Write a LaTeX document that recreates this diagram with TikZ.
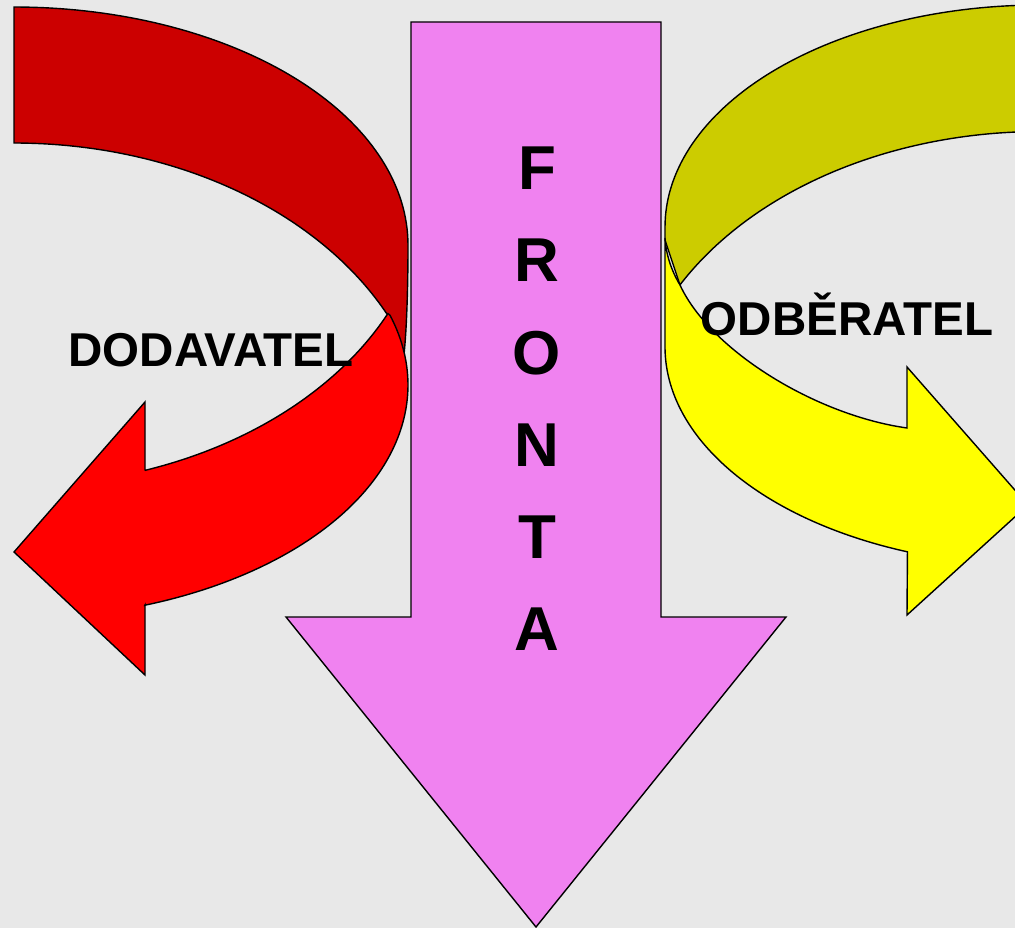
\documentclass[tikz,border=0pt]{standalone}
\usepackage{fontspec}
\setmainfont{Liberation Sans}
\definecolor{bgcol}{RGB}{232,232,232}
\definecolor{redback}{RGB}{204,0,0}
\definecolor{redfront}{RGB}{255,0,0}
\definecolor{yelback}{RGB}{204,204,0}
\definecolor{yelfront}{RGB}{255,255,0}
\definecolor{pinkarrow}{RGB}{240,130,240}
\begin{document}
\begin{tikzpicture}[x=1pt,y=-1pt,
  arrowshape/.style={draw=black, line width=1.4pt, line join=miter},
  lbl/.style={font=\bfseries\fontsize{47.5}{50}\selectfont, inner sep=0pt, anchor=base},
  biglbl/.style={font=\bfseries\fontsize{62}{64}\selectfont, inner sep=0pt, anchor=base}]
\fill[bgcol] (0,0) rectangle (1015,928);
\useasboundingbox (0,0) rectangle (1015,928);
\clip (0,0) rectangle (1015,928);
% red arrow, back part
\path[arrowshape, fill=redback] (14,7)
  -- plot[domain=-90:0, samples=70] ({14+394*cos(\x)},{245+238*sin(\x)})
  .. controls (408,290) and (406.5,330) .. (404.2,352.5)
  -- plot[domain=26:90, samples=70] ({14+416*cos(-\x)},{450+307*sin(-\x)})
  -- cycle;
% red arrow, front part
\path[arrowshape, fill=redfront] (145,605) -- (145,675) -- (14,552) -- (145,402) -- (145,470)
  -- plot[domain=26:71.6, samples=70] ({14+416*cos(97.6-\x)},{179+307*sin(97.6-\x)})
  -- plot[domain=-17.4:70.6, samples=90] ({14+394*cos(\x)},{385+233.5*sin(\x)})
  -- cycle;
% yellow arrow, back part
\path[arrowshape, fill=yelback]
  plot[domain=90:180, samples=70] ({1040+375*cos(-\x)},{227+222*sin(-\x)})
  -- (665,240) -- (680,285)
  -- plot[domain=-150.9:-90, samples=70] ({1040+412*cos(\x)},{430+298.5*sin(\x)})
  -- cycle;
% yellow arrow, front part
\path[arrowshape, fill=yelfront]
  plot[domain=110.7:180, samples=80] ({1040+375*cos(\x)},{347+219*sin(\x)})
  -- (665,238) .. controls (666,254) and (671,270) .. (680,285)
  .. controls (710,350) and (815,415) .. (907,428)
  -- (907,367) -- (1028,505) -- (907,615) -- cycle;
% pink arrow
\path[arrowshape, fill=pinkarrow] (411,22) -- (661,22) -- (661,617) -- (786,617)
  -- (536,927) -- (286,617) -- (411,617) -- cycle;
% labels
\node[lbl] (dod) at (211,366) {DODAVATEL};
\node[lbl] (odb) at (847,335) {ODBĚRATEL};
\foreach \l [count=\i] in {F,R,O,N,T,A}
  \node[biglbl] (fr\i) at (537,{190+92*(\i-1)}) {\l};
\end{tikzpicture}
\end{document}
